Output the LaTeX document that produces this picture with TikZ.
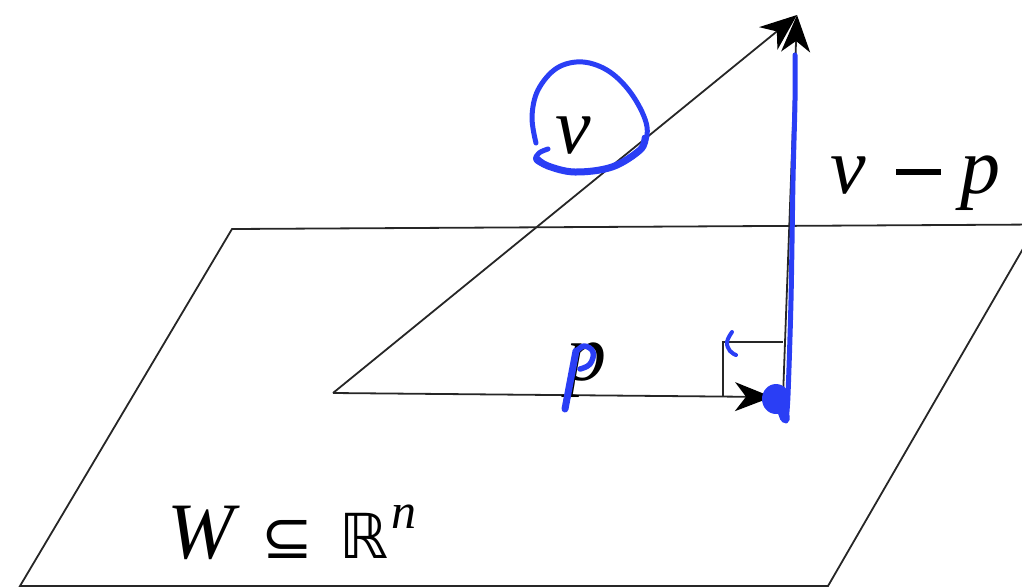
\documentclass[tikz,border=0pt]{standalone}
\usepackage{fontspec}
\setmainfont{Liberation Serif}
\newfontfamily\symbfont{DejaVu Sans}
\usetikzlibrary{arrows.meta}
\definecolor{pen}{RGB}{42,62,245}
\begin{document}
\begin{tikzpicture}[x=1pt,y=-1pt,
  thinline/.style={line width=1.8pt, black!85},
  vecarrow/.style={thinline, -{Stealth[length=37pt,width=29pt,inset=11pt,color=black]}},
  ink/.style={draw=pen, line width=5pt, line cap=round, line join=round},
  lab/.style={font=\fontsize{80}{80}\selectfont, inner sep=0pt, anchor=base}]
\useasboundingbox (0,0) rectangle (1022,587);
\clip (0,0) rectangle (1022,587);
% plane
\coordinate (A) at (232,229);
\coordinate (B) at (1037,224.5);
\coordinate (C) at (828,586);
\coordinate (D) at (20,586);
\draw[thinline] (A) -- (B) -- (C) -- (D) -- cycle;
% vectors
\coordinate (O) at (333,393);
\coordinate (V) at (797,15);
\coordinate (P) at (772,397);
\coordinate (Q) at (783,397);
\draw[vecarrow] (O) -- (V);
\draw[vecarrow] (O) -- (P);
\draw[vecarrow] (Q) -- (V);
% right angle mark
\coordinate (R1) at (723,397);
\coordinate (R2) at (723,342);
\coordinate (R3) at (783,342);
\draw[thinline] (R1) -- (R2) -- (R3);
% labels
\node[lab] (lv) at (573,153) {\itshape v};
\node[lab] (lp) at (586,380) {\itshape p};
\node[lab, anchor=base west] (lvp) at (830,193) {\itshape v\hspace{30pt}\rule[18pt]{45pt}{6pt}\hspace{20pt}\itshape p};
\node[lab, anchor=base west] (lw) at (167,558) {\itshape W\hspace{28pt}{\symbfont\fontsize{62}{62}\selectfont ⊆\hspace{26pt}ℝ}\hspace{3pt}\raisebox{30pt}{\fontsize{50}{50}\selectfont\itshape n}};
% blue ink annotations
\draw[ink] plot[smooth, tension=0.6] coordinates {(536,143) (532,117) (538,90) (557,68) (583,62) (610,72) (633,96) (647,127) (640,150) (612,167) (575,172) (548,166) (536,160) (539,153) (548,149)};
\draw[ink, line width=7pt] plot[smooth, tension=0.6] coordinates {(645,138) (640,150) (612,167) (575,172) (548,166) (537,159)};
\draw[ink, line width=7pt] (565,409) -- (576,351);
\draw[ink, line width=5.5pt] plot[smooth, tension=0.7] coordinates {(576,352) (584,346) (593,352) (590,364) (580,369)};
\draw[ink, line width=4pt] plot[smooth, tension=0.7] coordinates {(732,332) (727,342) (730,351) (736,355)};
\fill[pen] (776,399) ellipse (14 and 15);
\draw[ink, line width=10pt] (779,402) -- (785,418);
\draw[ink] plot[smooth, tension=0.5] coordinates {(786,421) (788,395) (791,300) (793,180) (795,100) (795,55)};
\end{tikzpicture}
\end{document}
